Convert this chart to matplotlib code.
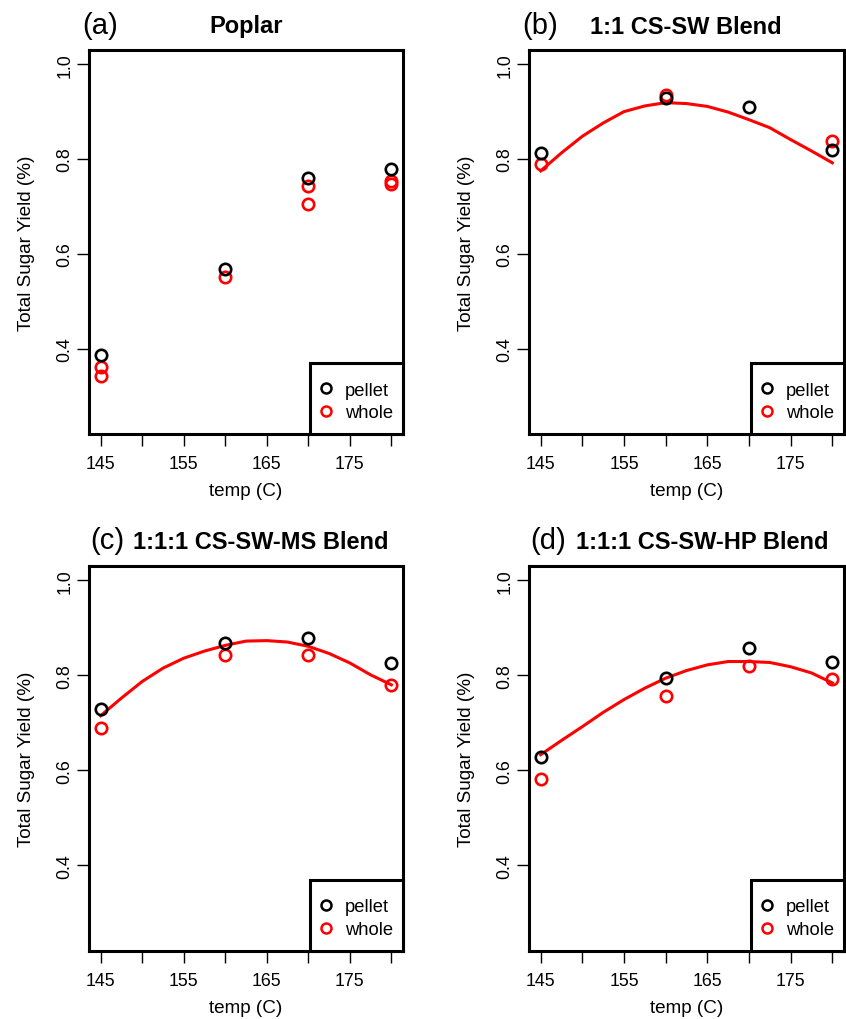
import matplotlib
matplotlib.use("Agg")
import matplotlib.pyplot as plt
from matplotlib.lines import Line2D
from matplotlib.patches import Rectangle

plt.rcParams['font.family'] = ['Liberation Sans', 'DejaVu Sans']

W, H = 846, 1020

# ---------------- data ----------------
panel_letters = ["(a)", "(b)", "(c)", "(d)"]
panel_titles = ["Poplar", "1:1 CS-SW Blend", "1:1:1 CS-SW-MS Blend", "1:1:1 CS-SW-HP Blend"]

poplar_pellet_x = [145, 160, 170, 180]
poplar_pellet_y = [0.387, 0.567, 0.759, 0.779]
poplar_whole_x = [145, 145, 160, 170, 170, 180, 180]
poplar_whole_y = [0.361, 0.342, 0.552, 0.743, 0.706, 0.754, 0.748]

cssw_pellet_x = [145, 160, 170, 180]
cssw_pellet_y = [0.813, 0.929, 0.909, 0.819]
cssw_whole_x = [145, 160, 180]
cssw_whole_y = [0.789, 0.936, 0.839]
cssw_fit_x = [145, 147.5, 150, 152.5, 155, 157.5, 160, 162.5, 165, 167.5, 170, 172.5, 175, 177.5, 180]
cssw_fit_y = [0.775, 0.813, 0.848, 0.876, 0.900, 0.912, 0.919, 0.917, 0.911, 0.899, 0.883, 0.866, 0.841, 0.817, 0.792]

csswms_pellet_x = [145, 160, 170, 180]
csswms_pellet_y = [0.730, 0.868, 0.879, 0.826]
csswms_whole_x = [145, 160, 170, 180]
csswms_whole_y = [0.689, 0.842, 0.842, 0.780]
csswms_fit_x = [145, 147.5, 150, 152.5, 155, 157.5, 160, 162.5, 165, 167.5, 170, 172.5, 175, 177.5, 180]
csswms_fit_y = [0.715, 0.752, 0.787, 0.815, 0.836, 0.851, 0.863, 0.872, 0.873, 0.870, 0.861, 0.846, 0.826, 0.801, 0.780]

csswhp_pellet_x = [145, 160, 170, 180]
csswhp_pellet_y = [0.629, 0.795, 0.857, 0.829]
csswhp_whole_x = [145, 160, 170, 180]
csswhp_whole_y = [0.582, 0.756, 0.820, 0.792]
csswhp_fit_x = [145, 147.5, 150, 152.5, 155, 157.5, 160, 162.5, 165, 167.5, 170, 172.5, 175, 177.5, 180]
csswhp_fit_y = [0.633, 0.663, 0.692, 0.722, 0.749, 0.773, 0.794, 0.810, 0.822, 0.829, 0.829, 0.827, 0.818, 0.805, 0.784]

x_ticks = [145, 150, 155, 160, 165, 170, 175, 180]
x_tick_labels = ["145", "", "155", "", "165", "", "175", ""]
y_ticks = [0.4, 0.6, 0.8, 1.0]
y_tick_labels = ["0.4", "0.6", "0.8", "1.0"]
legend_labels = ["pellet", "whole"]

panels = [
    (poplar_pellet_x, poplar_pellet_y, poplar_whole_x, poplar_whole_y, None, None),
    (cssw_pellet_x, cssw_pellet_y, cssw_whole_x, cssw_whole_y, cssw_fit_x, cssw_fit_y),
    (csswms_pellet_x, csswms_pellet_y, csswms_whole_x, csswms_whole_y, csswms_fit_x, csswms_fit_y),
    (csswhp_pellet_x, csswhp_pellet_y, csswhp_whole_x, csswhp_whole_y, csswhp_fit_x, csswhp_fit_y),
]

# ---------------- layout (pixels) ----------------
boxes = [(89, 51, 403, 435), (529, 51, 844, 435), (89, 567, 403, 952), (529, 567, 844, 952)]
letter_pos = [(82, 33.5), (522, 33.5), (90, 549.3), (530, 549.3)]
title_pos = [(246, 33.5), (686, 33.5), (261, 549.3), (702, 549.3)]
LEG_W, LEG_H = 93, 71

fig = plt.figure(figsize=(W / 100, H / 100), dpi=100)
fig.patch.set_facecolor("white")

ms, mew = 8.2, 1.9
lms, lmew = 7.2, 1.8
for i, (px, py, wx, wy, fx, fy) in enumerate(panels):
    x0, y0, x1, y1 = boxes[i]
    ww, hh = x1 - x0, y1 - y0
    ax = fig.add_axes([x0 / W, 1 - y1 / H, ww / W, hh / H])
    if fx is not None:
        ax.plot(fx, fy, color="#FF0000", lw=2.2, zorder=2)
    ax.plot(wx, wy, ls="none", marker="o", ms=ms, mfc="none", mec="#FF0000", mew=mew, zorder=3)
    ax.plot(px, py, ls="none", marker="o", ms=ms, mfc="none", mec="black", mew=mew, zorder=4)
    ax.set_xlim(143.6, 181.4)
    ax.set_ylim(0.22, 1.03)
    ax.set_xticks(x_ticks)
    ax.set_xticklabels(x_tick_labels)
    ax.set_yticks(y_ticks)
    ax.set_yticklabels(y_tick_labels, rotation=90, va="center")
    ax.tick_params(axis="both", direction="out", length=8.3, width=1.0, labelsize=12.8, colors="black")
    ax.tick_params(axis="x", pad=7)
    ax.tick_params(axis="y", pad=3)
    for sp in ax.spines.values():
        sp.set_linewidth(2.2)
    ax.set_xlabel("temp (C)", fontsize=13.6)
    ax.set_ylabel("Total Sugar Yield (%)", fontsize=13.6)
    ax.xaxis.set_label_coords(0.5, -48 / hh)
    ax.yaxis.set_label_coords(-54 / ww, 0.5)

    # legend box (R style, bottom-right)
    ax.add_patch(Rectangle((1 - LEG_W / ww, 0), LEG_W / ww, LEG_H / hh, transform=ax.transAxes,
                           facecolor="white", edgecolor="black", lw=2.2, zorder=5, clip_on=False))
    handles = [Line2D([], [], ls="none", marker="o", ms=lms, mfc="none", mec="black", mew=lmew),
               Line2D([], [], ls="none", marker="o", ms=lms, mfc="none", mec="#FF0000", mew=lmew)]
    leg = ax.legend(handles, legend_labels, loc="upper left",
                    bbox_to_anchor=(1 - (LEG_W - 8.7) / ww, 52.5 / hh),
                    borderaxespad=0, borderpad=0, fontsize=13.2, frameon=False,
                    handlelength=0.8, handletextpad=0.64, labelspacing=0.3)
    leg.set_zorder(6)

    lx, ly = letter_pos[i]
    fig.text(lx / W, 1 - ly / H, panel_letters[i], fontsize=21, ha="left", va="baseline")
    tx, ty = title_pos[i]
    fig.text(tx / W, 1 - ty / H, panel_titles[i], fontsize=17, fontweight="bold", ha="center", va="baseline")

fig.savefig("out.png", dpi=100, facecolor="white")
